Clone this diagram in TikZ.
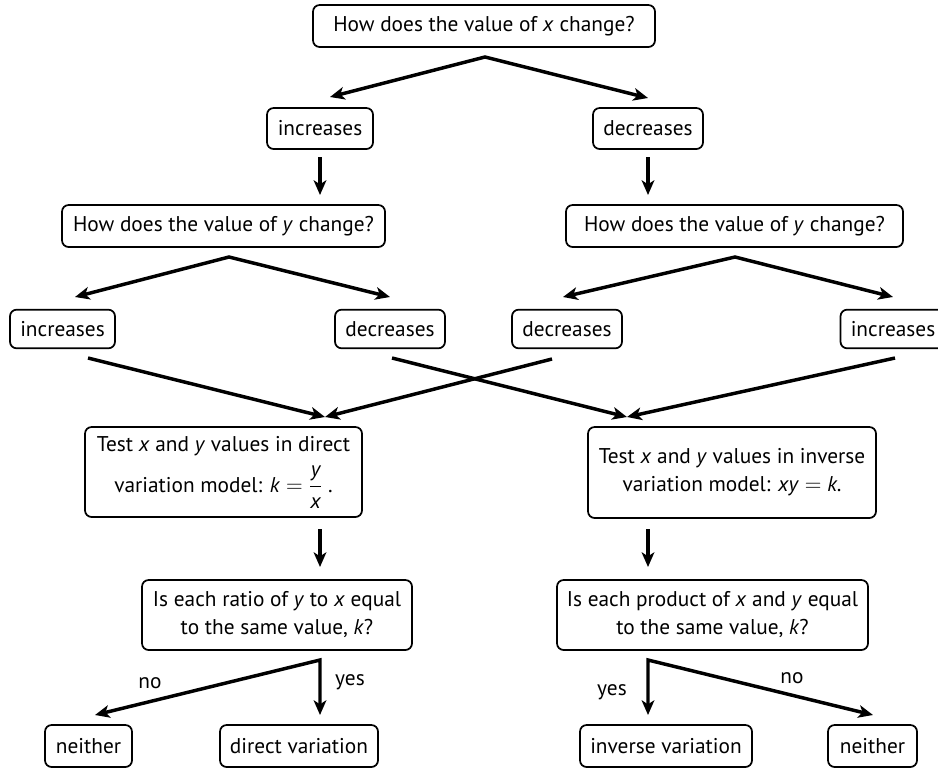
\documentclass[tikz,border=0pt]{standalone}
\usepackage{fontspec}
\usepackage{amsmath}
\setmainfont{PT Sans}
\usetikzlibrary{arrows.meta}
\begin{document}
\begin{tikzpicture}[x=0.75pt,y=-0.75pt,
  box/.style={draw, rounded corners=5pt, line width=1.3pt, inner sep=0pt, align=center,
    font=\fontsize{16}{21}\selectfont},
  arr/.style={line width=2.6pt, line join=miter,
    -{Stealth[length=11pt,width=9.5pt,inset=3pt]}},
  dbl/.style={line width=2.6pt, line join=miter,
    {Stealth[length=11pt,width=9.5pt,inset=3pt]}-{Stealth[length=11pt,width=9.5pt,inset=3pt]}},
  lbl/.style={inner sep=0pt, font=\fontsize{16}{18}\selectfont}]
\useasboundingbox (0,0) rectangle (938,768);

% nodes
\node[box, minimum width=256.5pt, minimum height=31.5pt] (top) at (484,26) {How does the value of \textit{x} change?};
\node[box, minimum width=79.5pt, minimum height=30.75pt] (incA) at (320,128.5) {increases};
\node[box, minimum width=82.5pt, minimum height=30.75pt] (decA) at (648,128.5) {decreases};
\node[box, minimum width=242.25pt, minimum height=31.5pt] (yL) at (223.5,226) {How does the value of \textit{y} change?};
\node[box, minimum width=252.75pt, minimum height=31.5pt] (yR) at (734.5,226) {How does the value of \textit{y} change?};
\node[box, minimum width=78.75pt, minimum height=29pt] (inc1) at (62.5,329) {increases};
\node[box, minimum width=82.5pt, minimum height=29pt] (dec1) at (390,329) {decreases};
\node[box, minimum width=82.5pt, minimum height=29pt] (dec2) at (567,329) {decreases};
\node[box, minimum width=78.75pt, minimum height=29pt] (inc2) at (893,329) {increases};
\node[box, minimum width=207.75pt, minimum height=67.5pt] (testL) at (223.5,472)
  {Test \textit{x} and \textit{y} values in direct\\[7pt]variation model: \textit{k}\;$=$\;$\dfrac{\textit{y}}{\textit{x}}$\;.};
\node[box, minimum width=216pt, minimum height=68.25pt] (testR) at (732,472.5)
  {Test \textit{x} and \textit{y} values in inverse\\variation model: \textit{xy}\;$=$\;\textit{k}.};
\node[box, minimum width=202.5pt, minimum height=52.5pt] (qL) at (277,615)
  {Is each ratio of \textit{y} to \textit{x} equal\\to the same value, \textit{k}?};
\node[box, minimum width=233.25pt, minimum height=52.5pt] (qR) at (712.5,615)
  {Is each product of \textit{x} and \textit{y} equal\\to the same value, \textit{k}?};
\node[box, minimum width=65.25pt, minimum height=31.5pt] (nei1) at (88.5,746) {neither};
\node[box, minimum width=118.5pt, minimum height=31.5pt] (dir) at (299,746) {direct variation};
\node[box, minimum width=129pt, minimum height=31.5pt] (inv) at (666,746) {inverse variation};
\node[box, minimum width=66.75pt, minimum height=31.5pt] (nei2) at (872.5,746) {neither};

% connector points
\coordinate (s0) at (485,57);
\coordinate (eIncA) at (330,97);
\coordinate (eDecA) at (648,98);
\coordinate (bIncA) at (320,157);
\coordinate (eYL) at (320,195);
\coordinate (bDecA) at (648,157);
\coordinate (eYR) at (648,195);
\coordinate (sL) at (229,257);
\coordinate (eInc1) at (75,297);
\coordinate (eDec1) at (390,297);
\coordinate (sR) at (735,257);
\coordinate (eDec2) at (563,297);
\coordinate (eInc2) at (893,297);
\coordinate (bInc1) at (88,358);
\coordinate (bDec1) at (392,358);
\coordinate (bDec2) at (552,359);
\coordinate (bInc2) at (895,358);
\coordinate (eTestL) at (325,417);
\coordinate (eTestR) at (627,417);
\coordinate (bTestL) at (320,529);
\coordinate (eQL) at (320,567);
\coordinate (bTestR) at (648,529);
\coordinate (eQR) at (648,567);
\coordinate (sQL) at (320,660);
\coordinate (eNei1) at (95,715);
\coordinate (eDir) at (320,715);
\coordinate (sQR) at (648,660);
\coordinate (eInv) at (648,715);
\coordinate (eNei2) at (873,715);

% connectors
\draw[dbl] (eIncA) -- (s0) -- (eDecA);
\draw[arr] (bIncA) -- (eYL);
\draw[arr] (bDecA) -- (eYR);
\draw[dbl] (eInc1) -- (sL) -- (eDec1);
\draw[dbl] (eDec2) -- (sR) -- (eInc2);
\draw[arr] (bInc1) -- (eTestL);
\draw[arr] (bDec2) -- (eTestL);
\draw[arr] (bDec1) -- (eTestR);
\draw[arr] (bInc2) -- (eTestR);
\draw[arr] (bTestL) -- (eQL);
\draw[arr] (bTestR) -- (eQR);
\draw[dbl] (eNei1) -- (sQL) -- (eDir);
\draw[dbl] (eInv) -- (sQR) -- (eNei2);

% labels
\node[lbl] (noL) at (150,683) {no};
\node[lbl] (yesL) at (350,682) {yes};
\node[lbl] (yesR) at (612,692) {yes};
\node[lbl] (noR) at (792,678) {no};
\end{tikzpicture}
\end{document}
